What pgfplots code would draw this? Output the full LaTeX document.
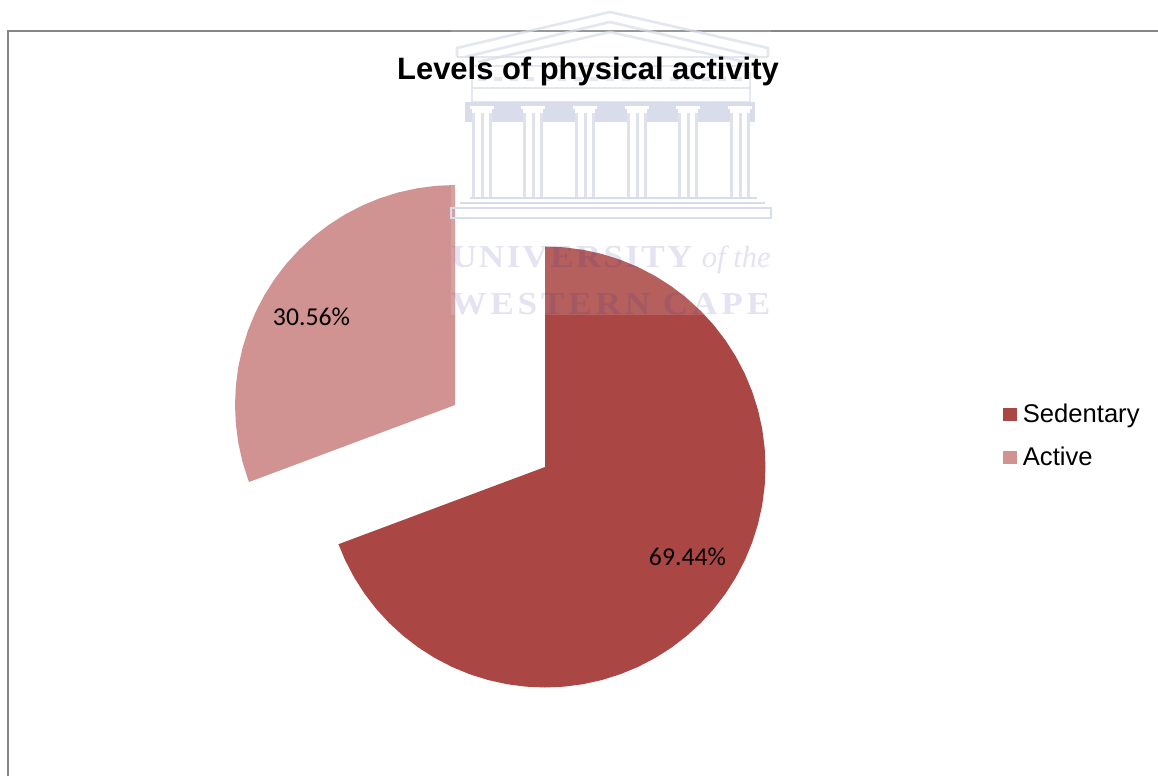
\documentclass[border=0pt]{standalone}
\usepackage{pgfplots}
\pgfplotsset{compat=1.18}
\usepackage{fontspec}
\setmainfont{Liberation Sans}
\newfontfamily\calib{Carlito}
\newfontfamily\wmfont[LetterSpace=7,FakeStretch=1.1]{Liberation Serif Bold}
\newfontfamily\wmfontb[LetterSpace=12,FakeStretch=1.1]{Liberation Serif Bold}
\newfontfamily\wmit{Liberation Serif Italic}
\definecolor{sed}{HTML}{AA4643}
\definecolor{act}{HTML}{D09392}
\definecolor{wm}{HTML}{D9DCEA}
\definecolor{framecol}{HTML}{868686}
\begin{document}
\begin{tikzpicture}
\begin{axis}[
  scale only axis, width=868.5pt, height=582pt,
  xmin=0, xmax=1158, ymin=-776, ymax=0,
  hide axis, clip=true,
  title={\fontsize{23.2pt}{26pt}\selectfont\bfseries Levels of physical activity},
  title style={at={(588/1158,1-80/776)},anchor=center,inner sep=0pt,text=black},
  legend cell align=left,
  legend style={at={(1003.3/1158,1-436/776)},anchor=west,draw=none,fill=none,inner sep=0pt,outer sep=0pt,
    font=\fontsize{19.2pt}{22pt}\selectfont,row sep=15pt,
    nodes={inner xsep=4.2pt,inner ysep=1pt}},
  legend image code/.code={\fill[#1] (0pt,-5pt) rectangle (10.5pt,5pt);},
]
% Sedentary 69.44 % : from 12 o'clock clockwise
\addplot[draw=none,fill=sed] table[x expr={545+\thisrow{r}*cos(\thisrow{a})},y expr={-467+\thisrow{r}*sin(\thisrow{a})},row sep=\\] {
a r\\
90 0\\ 90 220.5\\ 85 220.5\\ 80 220.5\\ 75 220.5\\ 70 220.5\\ 65 220.5\\ 60 220.5\\ 55 220.5\\ 50 220.5\\ 45 220.5\\ 40 220.5\\ 35 220.5\\ 30 220.5\\ 25 220.5\\ 20 220.5\\ 15 220.5\\ 10 220.5\\ 5 220.5\\ 0 220.5\\
-5 220.5\\ -10 220.5\\ -15 220.5\\ -20 220.5\\ -25 220.5\\ -30 220.5\\ -35 220.5\\ -40 220.5\\ -45 220.5\\ -50 220.5\\ -55 220.5\\ -60 220.5\\ -65 220.5\\ -70 220.5\\ -75 220.5\\ -80 220.5\\ -85 220.5\\ -90 220.5\\
-95 220.5\\ -100 220.5\\ -105 220.5\\ -110 220.5\\ -115 220.5\\ -120 220.5\\ -125 220.5\\ -130 220.5\\ -135 220.5\\ -140 220.5\\ -145 220.5\\ -150 220.5\\ -155 220.5\\ -159.5 220.5\\
} -- cycle;
\addlegendentry{Sedentary}
% Active 30.56 %
\addplot[draw=none,fill=act] table[x expr={455+\thisrow{r}*cos(\thisrow{a})},y expr={-405+\thisrow{r}*sin(\thisrow{a})},row sep=\\] {
a r\\
90 0\\ 90 220\\ 95 220\\ 100 220\\ 105 220\\ 110 220\\ 115 220\\ 120 220\\ 125 220\\ 130 220\\ 135 220\\ 140 220\\ 145 220\\ 150 220\\ 155 220\\ 160 220\\ 165 220\\ 170 220\\ 175 220\\ 180 220\\ 185 220\\ 190 220\\ 195 220\\ 200.5 220\\
} -- cycle;
\addlegendentry{Active}
% frame
\addplot[forget plot,framecol,line width=1.4pt] coordinates {(7.8,-776) (7.8,-30.6) (1158,-30.6)};
% watermark veil and drawing
\fill[white,opacity=.14] (451,-8) rectangle (771,-315);
\begin{scope}[draw=wm,line width=2pt,line join=round,opacity=.7]
\draw (457,-57) -- (457,-48) -- (610,-12) -- (768,-48) -- (768,-57);
\draw (465,-57) -- (610,-22) -- (758,-57);
\draw (478,-62) -- (610,-32) -- (745,-62);
\draw (457,-57) -- (768,-57);
\draw (472,-88) rectangle (750,-102);
\draw (472,-66) -- (750,-66) (472,-72) -- (472,-88) (750,-72) -- (750,-88);
\draw[line width=3.5pt,dash pattern=on 6pt off 6pt] (478,-79) -- (746,-79);
\end{scope}
\fill[wm] (465,-102) rectangle (755,-122);
\pgfplotsinvokeforeach{482,533,585,637,688,740}{
  \fill[white] (#1-12,-106) rectangle (#1+12,-109);
  \fill[white] (#1-10,-109) rectangle (#1+10,-122);
  \fill[wm!85] (#1-10,-113) rectangle (#1-7,-197);
  \fill[wm!85] (#1-1.5,-113) rectangle (#1+1.5,-197);
  \fill[wm!85] (#1+7,-113) rectangle (#1+10,-197);
}
\begin{scope}[draw=wm,line width=1.7pt]
\draw (470,-198) -- (757,-198);
\draw (460,-203) -- (765,-203);
\draw (451,-208) rectangle (771,-218);
\end{scope}
\node[anchor=base west,inner sep=0pt,text=wm!30!blue!60!black,opacity=.13] at (451,-268) {\fontsize{24pt}{26pt}\selectfont\wmfont UNIVERSITY};
\node[anchor=base east,inner sep=0pt,text=wm!30!blue!60!black,opacity=.13] at (771,-268) {\fontsize{23pt}{26pt}\selectfont\wmit of the};
\node[anchor=base west,inner sep=0pt,text=wm!30!blue!60!black,opacity=.13] at (451,-315) {\fontsize{24pt}{26pt}\selectfont\wmfontb WESTERN CAPE};
% data labels
\node[font=\fontsize{19.3pt}{22pt}\selectfont\calib,text=black,inner sep=0pt] at (311.5,-317) {30.56\%};
\node[font=\fontsize{19.3pt}{22pt}\selectfont\calib,text=black,inner sep=0pt] at (687.5,-557) {69.44\%};
\end{axis}
\useasboundingbox (0,0) rectangle (868.5pt,582pt);
\end{tikzpicture}
\end{document}
